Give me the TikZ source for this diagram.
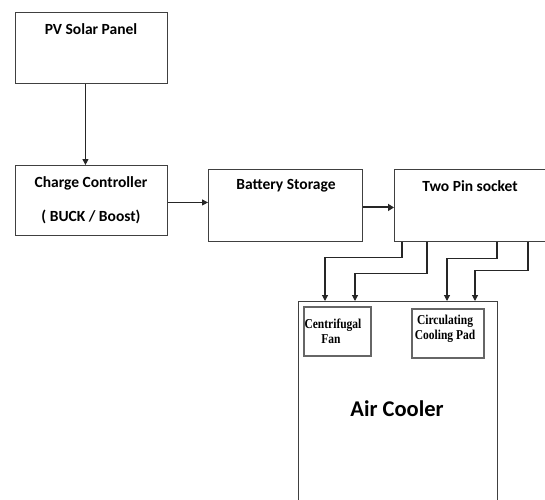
\documentclass[tikz,border=0pt]{standalone}
\usepackage{fontspec}
\setmainfont{Carlito}
\newfontfamily\tnr{Liberation Serif}
\usetikzlibrary{arrows.meta,calc}
\begin{document}
\begin{tikzpicture}[x=1pt,y=-1pt,
  box/.style={draw=black!75, line width=0.9pt, rectangle, anchor=north west, inner sep=0pt},
  dbox/.style={draw=black!60, line width=2.2pt, rectangle, anchor=north west, inner sep=0pt},
  lbl/.style={font=\bfseries\fontsize{15.5}{18}\selectfont, inner sep=0pt},
  slbl/.style={font=\tnr\bfseries\fontsize{11.5}{12}\selectfont, inner sep=0pt, align=center, yscale=1.18, transform shape},
  arr/.style={draw=black!85, line width=1.1pt, -{Triangle[length=6pt,width=6pt]}},
  harr/.style={draw=black!85, line width=2pt, -{Triangle[length=6pt,width=7pt]}}]
\useasboundingbox (0,0) rectangle (545,499);
\clip (0,0) rectangle (545,499);
% boxes
\node[box, minimum width=152pt, minimum height=71pt] (pv) at (15,12) {};
\node[box, minimum width=152pt, minimum height=70pt] (cc) at (15,165) {};
\node[box, minimum width=154pt, minimum height=72pt] (bat) at (208,169) {};
\node[box, minimum width=180pt, minimum height=72pt] (sock) at (394,169) {};
\node[box, minimum width=199pt, minimum height=230pt] (cool) at (298,301) {};
\node[dbox, minimum width=67pt, minimum height=49pt] (fan) at (303,306) {};
\node[dbox, minimum width=72pt, minimum height=49pt] (pad) at (411,308) {};
% labels
\node[lbl] (pvt) at (91,29) {PV Solar Panel};
\node[lbl] (cct) at (91,183) {Charge Controller};
\node[lbl] (ccb) at (91,217) {( BUCK / Boost)};
\node[lbl] (batt) at (286,186) {Battery Storage};
\node[lbl] (sockt) at (470,186) {Two Pin socket};
\node[font=\bfseries\fontsize{22.5}{25}\selectfont, inner sep=0pt] (coolt) at (397,409) {Air Cooler};
\node[slbl] (fant) at (333,331) {Centrifugal\\[1pt]\hspace*{-4pt}Fan};
\node[slbl] (padt) at (445,329) {Circulating\\[1pt]Cooling Pad};
% connectors
\draw[arr] ($(pv.south)+(-6,0)$) -- ($(cc.north)+(-6,0)$);
\draw[arr] ($(cc.east)+(0,2)$) -- ($(bat.west)+(0,-3)$);
\draw[harr] ($(bat.east)+(0,2)$) -- ($(sock.west)+(0,2)$);
\draw[arr] ($(sock.south west)+(8,0)$) -- ++(0,16) -| ($(cool.north west)+(27,0)$);
\draw[arr] ($(sock.south west)+(33,0)$) -- ++(0,32) -| ($(cool.north west)+(57,0)$);
\draw[arr] ($(sock.south west)+(103,0)$) -- ++(0,17) -| ($(cool.north west)+(149,0)$);
\draw[arr] ($(sock.south west)+(134,0)$) -- ++(0,29) -| ($(cool.north west)+(177,0)$);
\end{tikzpicture}
\end{document}
